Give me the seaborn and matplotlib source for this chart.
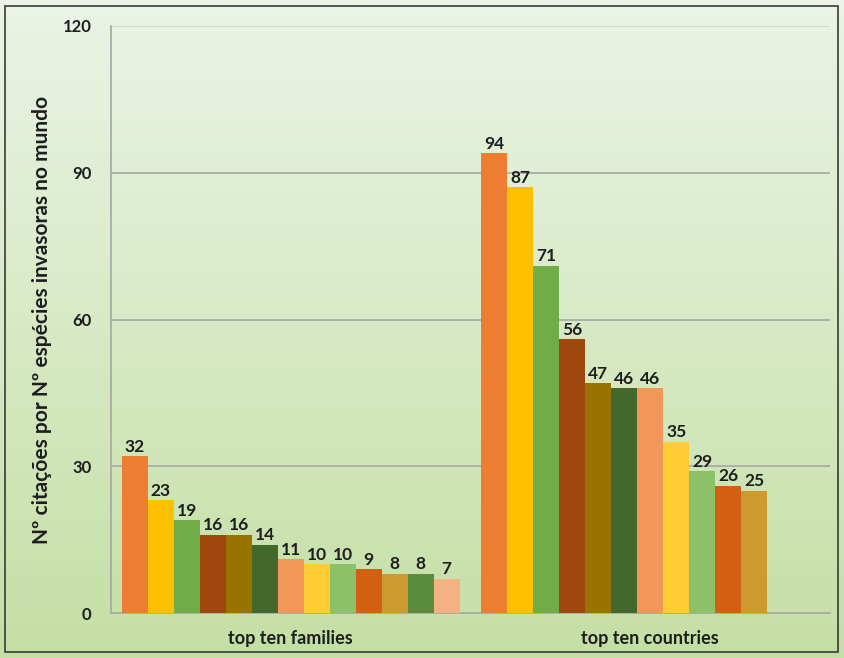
import numpy as np
import pandas as pd
import matplotlib
matplotlib.use("Agg")
import matplotlib.pyplot as plt
import seaborn as sns
from matplotlib.colors import LinearSegmentedColormap
from matplotlib.patches import Rectangle

groups = ["top ten families", "top ten countries"]
families = [32, 23, 19, 16, 16, 14, 11, 10, 10, 9, 8, 8, 7]
countries = [94, 87, 71, 56, 47, 46, 46, 35, 29, 26, 25]
colors = ["#ED7D31", "#FFC000", "#70AD47", "#9E480E", "#997300", "#43682B",
          "#F1975A", "#FFCD33", "#8CC168", "#D26012", "#CC9A2E", "#5B8C3C",
          "#F4B183"]
yticks = [0, 30, 60, 90, 120]
ylabel = "Nº citações por Nº espécies invasoras no mundo"

rows = []
for i, v in enumerate(families):
    rows.append({"group": groups[0], "rank": i + 1, "value": v})
for i, v in enumerate(countries):
    rows.append({"group": groups[1], "rank": i + 1, "value": v})
df = pd.DataFrame(rows)

sns.set_theme(style="white")
plt.rcParams["font.family"] = ["Lato", "DejaVu Sans"]
plt.rcParams["font.weight"] = "bold"

fig = plt.figure(figsize=(8.44, 6.58), dpi=100)

# gradient background
bg = fig.add_axes([0, 0, 1, 1], zorder=-5)
cmap = LinearSegmentedColormap.from_list("bg", ["#EBF4E6", "#C4DFA4"])
bg.imshow(np.linspace(0, 1, 256).reshape(-1, 1), aspect="auto", cmap=cmap,
          extent=[0, 1, 0, 1], origin="upper")
bg.axis("off")
fig.patches.append(Rectangle((5 / 844, 6 / 658), 833 / 844, 646 / 658,
                             transform=fig.transFigure, fill=False,
                             edgecolor="#3A3A3A", linewidth=1.2))

ax = fig.add_axes([111 / 844, 1 - 613 / 658, 719 / 844, 587 / 658])
ax.set_facecolor("none")

sns.barplot(data=df, x="group", y="value", hue="rank", palette=colors,
            width=0.94, saturation=1, legend=False, ax=ax, zorder=3,
            linewidth=0, edgecolor="none")

for c in ax.containers:
    ax.bar_label(c, fmt="%d", padding=1, fontsize=12.5, fontweight="bold",
                 color="#1E1E1E")

ax.set_ylim(0, 120)
ax.set_xlim(-0.5, 1.5)
ax.set_yticks(yticks)
for t in yticks[1:]:
    ax.axhline(t, color="#A6A6A6" if t < 120 else "#D0D8C8", lw=1.2, zorder=1)
ax.tick_params(axis="y", length=0, pad=14, labelsize=12)
ax.tick_params(axis="x", length=0, pad=12, labelsize=13)
for lab in ax.get_xticklabels() + ax.get_yticklabels():
    lab.set_fontweight("bold")
    lab.set_color("#1E1E1E")
ax.set_xlabel("")
ax.set_ylabel(ylabel, fontsize=15, fontweight="bold", color="#1E1E1E",
              labelpad=8)
for s in ["top", "right"]:
    ax.spines[s].set_visible(False)
ax.spines["left"].set_color("#A6A6A6")
ax.spines["bottom"].set_color("#A6A6A6")
ax.spines["left"].set_linewidth(1.2)
ax.spines["bottom"].set_linewidth(1.2)

fig.savefig("out.png", dpi=100)
